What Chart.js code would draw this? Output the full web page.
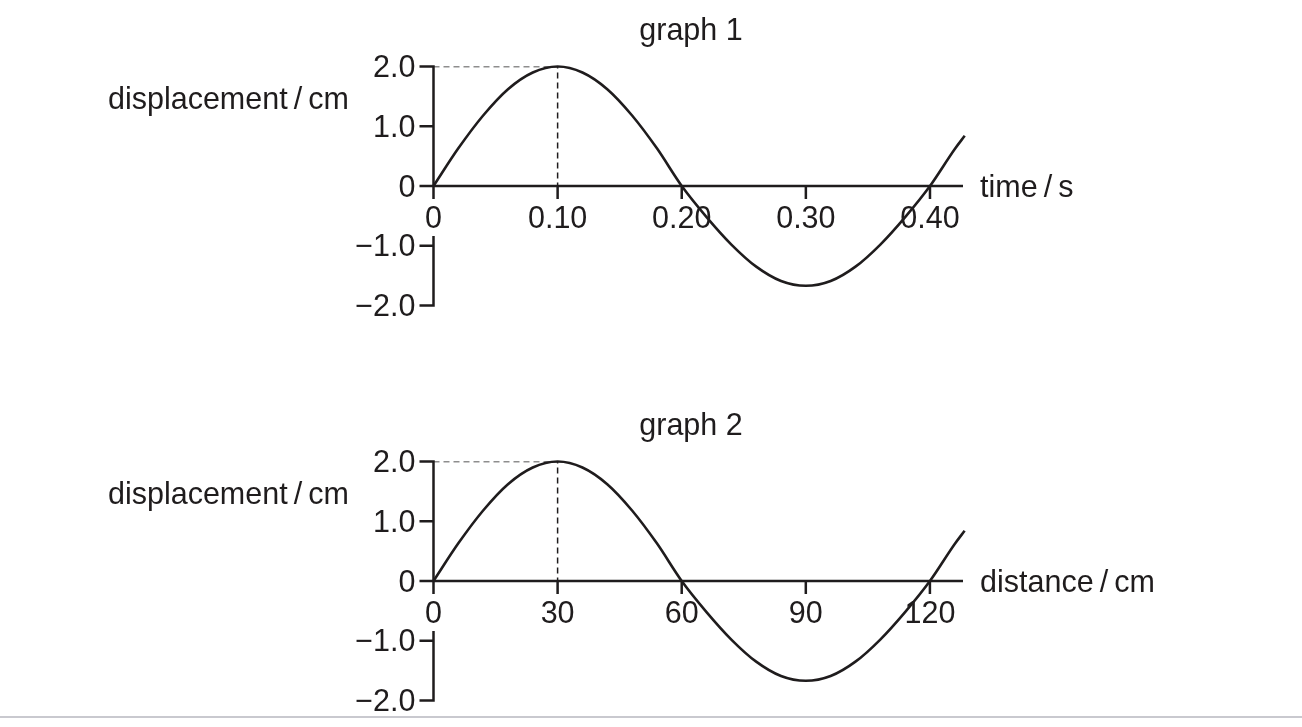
<!DOCTYPE html>
<html>
<head>
<meta charset="utf-8">
<script src="https://cdn.jsdelivr.net/npm/chart.js@4"></script>
<style>
  body { margin: 0; background: #fff; width: 1302px; height: 727px; overflow: hidden; position: relative; }
  canvas { position: absolute; left: 0; }
  #graph1 { top: 0; }
  #graph2 { top: 395px; }
  #rule { position: absolute; left: 0; top: 716px; width: 1302px; height: 2px; background: #c9c9cf; }
</style>
</head>
<body>
<canvas id="graph1" width="1302" height="320"></canvas>
<canvas id="graph2" width="1302" height="320"></canvas>
<div id="rule"></div>
<script>
// graph 1: displacement against time
const time = [0, 0.02, 0.04, 0.06, 0.08, 0.10, 0.12, 0.14, 0.16, 0.18, 0.20,
              0.22, 0.24, 0.26, 0.28, 0.30, 0.32, 0.34, 0.36, 0.38, 0.40, 0.42, 0.428];
// graph 2: displacement against distance
const distance = [0, 6, 12, 18, 24, 30, 36, 42, 48, 54, 60,
                  66, 72, 78, 84, 90, 96, 102, 108, 114, 120, 126, 128.4];
// same wave shape
const displacement = [0, 0.63, 1.18, 1.62, 1.90, 2.0, 1.90, 1.62, 1.18, 0.63, 0,
                      -0.52, -0.98, -1.35, -1.59, -1.67, -1.59, -1.35, -0.98, -0.52, 0, 0.62, 0.84];

// dashed guide to the first crest
const guideTime = [0, 0.10, 0.10];
const guideDistance = [0, 30, 30];
const guideDisp = [2.0, 2.0, 0];

const timeTicks = [0, 0.10, 0.20, 0.30, 0.40];
const timeLabels = ['0', '0.10', '0.20', '0.30', '0.40'];
const distTicks = [0, 30, 60, 90, 120];
const distLabels = ['0', '30', '60', '90', '120'];
const dispTicks = [2, 1, 0, -1, -2];
const dispLabels = ['2.0', '1.0', '0', '\u22121.0', '\u22122.0'];

const ink = '#1f1c1d';
const font = '30.5px "Liberation Sans", Arial, sans-serif';

// axes cross at zero, so they are drawn by hand from the chart's scales
function makeAxes(o) {
  return {
    id: 'crossAxes',
    beforeDatasetsDraw(chart) {
      const ctx = chart.ctx;
      const xs = chart.scales.x, ys = chart.scales.y;
      const x0 = xs.getPixelForValue(0), y0 = ys.getPixelForValue(0);
      const yTop = ys.getPixelForValue(2), yBot = ys.getPixelForValue(-2);
      const right = chart.chartArea.right;
      ctx.save();
      ctx.strokeStyle = ink;
      ctx.lineWidth = 2.5;
      ctx.beginPath();
      ctx.moveTo(x0 - 14, y0); ctx.lineTo(right, y0);
      o.xTicks.forEach(v => {
        const px = xs.getPixelForValue(v);
        ctx.moveTo(px, y0); ctx.lineTo(px, y0 + 13);
      });
      ctx.moveTo(x0, yTop - 1.25); ctx.lineTo(x0, y0 + 13);
      // broken below zero to leave room for the "0" label
      ctx.moveTo(x0, y0 + 50); ctx.lineTo(x0, yBot + 1.25);
      o.yTicks.forEach(v => {
        const py = ys.getPixelForValue(v);
        ctx.moveTo(x0 - 14, py); ctx.lineTo(x0, py);
      });
      ctx.stroke();

      ctx.fillStyle = ink;
      ctx.font = font;
      ctx.textBaseline = 'alphabetic';
      ctx.textAlign = 'center';
      o.xTicks.forEach((v, i) => ctx.fillText(o.xLabels[i], xs.getPixelForValue(v), y0 + 42));
      ctx.textAlign = 'right';
      o.yTicks.forEach((v, i) => ctx.fillText(o.yLabels[i], x0 - 18, ys.getPixelForValue(v) + 10.5));
      ctx.fillText(o.yTitle, 349, yTop + 42);
      ctx.textAlign = 'left';
      ctx.fillText(o.xTitle, right + 17, y0 + 10.5);
      ctx.textAlign = 'center';
      ctx.fillText(o.title, 691, yTop - 27);
      ctx.restore();
    }
  };
}

function makeGraph(id, xv, gx, xMax, o) {
  const wave = xv.map((v, i) => ({ x: v, y: displacement[i] }));
  const guide = gx.map((v, i) => ({ x: v, y: guideDisp[i] }));
  return new Chart(document.getElementById(id), {
    type: 'line',
    data: {
      datasets: [
        { data: wave, borderColor: ink, borderWidth: 2.6, pointRadius: 0,
          cubicInterpolationMode: 'monotone', clip: false },
        { data: guide, borderColor: ink, borderWidth: 1.5, borderDash: [6, 4],
          pointRadius: 0, tension: 0 }
      ]
    },
    options: {
      responsive: false,
      animation: false,
      devicePixelRatio: 1,
      layout: { padding: { left: 433.5, right: 339, top: 66.5, bottom: 14.5 } },
      scales: {
        x: { type: 'linear', min: 0, max: xMax, display: false },
        y: { type: 'linear', min: -2, max: 2, display: false }
      },
      plugins: { legend: { display: false }, tooltip: { enabled: false } }
    },
    plugins: [makeAxes(o)]
  });
}

makeGraph('graph1', time, guideTime, 0.4266, {
  title: 'graph 1', xTitle: 'time\u2009/\u2009s', yTitle: 'displacement\u2009/\u2009cm',
  xTicks: timeTicks, xLabels: timeLabels, yTicks: dispTicks, yLabels: dispLabels
});
makeGraph('graph2', distance, guideDistance, 128, {
  title: 'graph 2', xTitle: 'distance\u2009/\u2009cm', yTitle: 'displacement\u2009/\u2009cm',
  xTicks: distTicks, xLabels: distLabels, yTicks: dispTicks, yLabels: dispLabels
});
</script>
</body>
</html>
